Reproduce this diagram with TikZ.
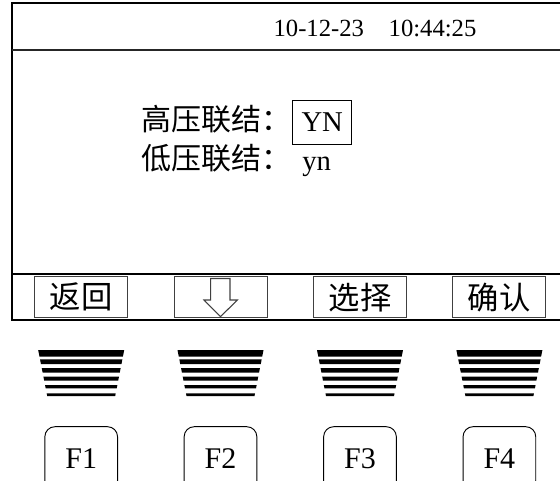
\documentclass[tikz,border=0pt]{standalone}
\usepackage{fontspec}
\setmainfont{Liberation Serif}
\newfontfamily\cjk{Noto Sans CJK SC}
\usepackage{tikz}
\usetikzlibrary{positioning, calc}

\begin{document}
\begin{tikzpicture}[x=0.75pt, y=-0.75pt,
  softkey/.style={draw=black!75, line width=0.8pt, minimum width=70pt, minimum height=30.5pt, inner sep=0pt, font=\cjk\fontsize{23.5}{28}\selectfont},
  fkey/.style={draw, line width=0.7pt, rounded corners=7.5pt, minimum width=54.5pt, minimum height=48pt, inner sep=0pt, font=\fontsize{22.5}{27}\selectfont},
  cnlabel/.style={anchor=west, inner sep=0pt, font=\cjk\fontsize{22.5}{26}\selectfont},
  value/.style={inner sep=0pt, font=\fontsize{21.5}{25}\selectfont}]
  \useasboundingbox (0,0) rectangle (560,481);

  % Screen frame
  \draw[line width=1.5pt] (11.5,3.5) rectangle (600,319.5);
  \draw[line width=1pt, black!85] (11.5,50) -- (600,50);
  \draw[line width=1.5pt] (11.5,273.5) -- (600,273.5);

  % Date and time
  \node[inner sep=0pt, font=\fontsize{18.5}{22}\selectfont] (clock) at (375,28) {10-12-23\quad 10:44:25};

  % Settings
  \node[cnlabel] (hvlabel) at (141,119) {高压联结：};
  \node[value, draw, line width=0.8pt, minimum width=44pt, minimum height=33pt] (hvvalue) at (322.2,122.2) {YN};
  \node[cnlabel] (lvlabel) at (141,158.5) {低压联结：};
  \node[value, anchor=base west] (lvvalue) at (302,171) {yn};

  % Soft keys
  \node[softkey] (back) at (81,297.2) {返回};
  \node[softkey] (down) at (220.7,297.2) {};
  \node[softkey] (select) at (360,297.2) {选择};
  \node[softkey] (confirm) at (499,297.2) {确认};
  \draw[line width=0.8pt, black!75] (210.7,278.5) -- (230,278.5) -- (230,300) -- (237.3,300)
    -- (220.5,316.7) -- (204,300) -- (210.7,300) -- cycle;

  % Speaker grills
  \foreach \cx in {81.2,220.5,360,499.4}
    \foreach \ya/\yb in {350/356.7, 359.3/364, 368/372.7, 376.7/380.7, 385/388.3, 393.3/396}
      \fill ({\cx-43+9*(\ya-350)/46},\ya) -- ({\cx+43-9*(\ya-350)/46},\ya)
        -- ({\cx+43-9*(\yb-350)/46},\yb) -- ({\cx-43+9*(\yb-350)/46},\yb) -- cycle;

  % Function keys
  \node[fkey] (fone) at (81.2,458.7) {F1};
  \node[fkey] (ftwo) at (220.5,458.7) {F2};
  \node[fkey] (fthree) at (360,458.7) {F3};
  \node[fkey] (ffour) at (499.4,458.7) {F4};
\end{tikzpicture}
\end{document}
